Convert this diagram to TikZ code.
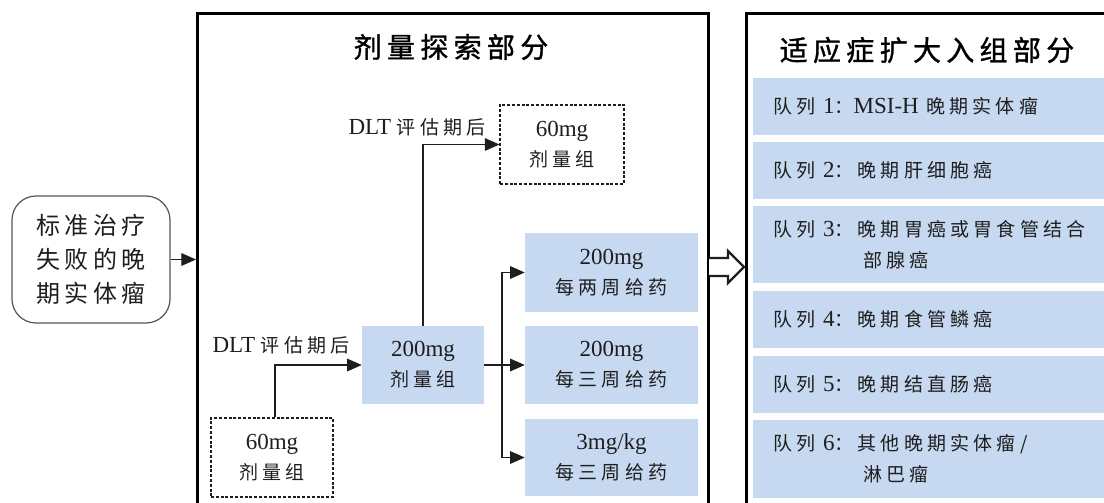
\documentclass[tikz,border=0pt]{standalone}
\usepackage{fontspec}
\setmainfont{Liberation Serif}
\newfontfamily\cjk[Scale=0.826,LetterSpace=22]{Noto Sans CJK SC}
\newfontfamily\cjkl[LetterSpace=18]{Noto Sans CJK SC}
\newfontfamily\cjkt[LetterSpace=19,FakeBold=1.2]{Noto Sans CJK SC}
\usetikzlibrary{arrows.meta}
\definecolor{boxblue}{RGB}{198,217,241}
\definecolor{ink}{RGB}{30,30,30}
\begin{document}
\begin{tikzpicture}[x=0.75pt,y=-0.75pt,
  base/.style={font=\fontsize{17.25}{22.5}\selectfont, text=ink, inner sep=0pt, align=center},
  bluebox/.style={base, fill=boxblue},
  dashbox/.style={base, draw=ink, line width=0.8pt, dash pattern=on 2.2pt off 1.4pt},
  link/.style={draw=ink, line width=0.9pt},
  arr/.style={link, -{Triangle[length=11pt,width=9.5pt]}},
  frame/.style={draw=black, line width=2pt, inner sep=0pt},
  cohort/.style={base, fill=boxblue, anchor=west, align=left, text width=255pt, inner xsep=15pt, inner ysep=0pt, font=\fontsize{17.25}{23}\selectfont},
  title/.style={font=\fontsize{21}{25}\selectfont\cjkt, text=black, inner sep=0pt},
  lbl/.style={base}
]
\useasboundingbox (0,0) rectangle (1104,503);
\clip (0,0) rectangle (1104,503);

% frames
\node[frame, anchor=north west, minimum width=383.25pt, minimum height=450pt] (doseframe) at (196,12) {};
\node[frame, anchor=north west, minimum width=300pt, minimum height=450pt] (expframe) at (745,12) {};

% titles
\node[title] (t1) at (451,47) {剂量探索部分};
\node[title] (t2) at (927,50) {适应症扩大入组部分};

% start box
\node[base, draw=ink!75, line width=0.9pt, rounded corners=18pt, minimum width=118.5pt, minimum height=95.25pt, font=\fontsize{18}{25.5}\selectfont\cjkl] (start) at (91,259.5) {标准治疗\\失败的晚\\期实体瘤};

% dose exploration boxes
\node[dashbox, fill=white, minimum width=93pt, minimum height=59.25pt] (d60a) at (562,144.5) {60mg\\{\cjk 剂量组}};
\node[bluebox, minimum width=91.5pt, minimum height=58.5pt] (d200) at (423,365) {200mg\\{\cjk 剂量组}};
\node[dashbox, minimum width=91.5pt, minimum height=59.25pt] (d60b) at (272,457.5) {60mg\\{\cjk 剂量组}};
\node[bluebox, minimum width=129.75pt, minimum height=59.25pt] (bA) at (611.5,272.5) {200mg\\{\cjk 每两周给药}};
\node[bluebox, minimum width=129.75pt, minimum height=58.5pt] (bB) at (611.5,365) {200mg\\{\cjk 每三周给药}};
\node[bluebox, minimum width=129.75pt, minimum height=57.75pt] (bC) at (611.5,457.5) {3mg/kg\\{\cjk 每三周给药}};

% labels
\node[lbl] (l1) at (417,127) {DLT {\cjk 评估期后}};
\node[lbl] (l2) at (281,345) {DLT {\cjk 评估期后}};

% connectors
\draw[arr] (start.east) -- (start.east -| doseframe.west);
\draw[arr] ([xshift=2.25pt]d60b.north) |- (d200.west);
\draw[arr] (d200.north) |- (d60a.west);
\coordinate (br) at (502,365);
\draw[arr] (d200.east) -- (bB.west);
\draw[arr] (br) |- (bA.west);
\draw[arr] (br) |- (bC.west);

% hollow arrow between frames
\draw[ink, line width=1.6pt, fill=white, line join=miter] (709,258) -- (728,258) -- (728,251) -- (744,267) -- (728,283) -- (728,276) -- (709,276);

% cohorts
\node[cohort, minimum height=42.75pt] (c1) at (753,106.5) {{\cjk 队列} 1{\cjk ：}MSI-H {\cjk 晚期实体瘤}};
\node[cohort, minimum height=42.75pt] (c2) at (753,170.5) {{\cjk 队列} 2{\cjk ：晚期肝细胞癌}};
\node[cohort, minimum height=57.75pt] (c3) at (753,244.5) {{\cjk 队列} 3{\cjk ：晚期胃癌或胃食管结合}\\\hspace*{67.5pt}{\cjk 部腺癌}};
\node[cohort, minimum height=42.75pt] (c4) at (753,319.5) {{\cjk 队列} 4{\cjk ：晚期食管鳞癌}};
\node[cohort, minimum height=42.75pt] (c5) at (753,384.5) {{\cjk 队列} 5{\cjk ：晚期结直肠癌}};
\node[cohort, minimum height=58.5pt] (c6) at (753,459) {{\cjk 队列} 6{\cjk ：其他晚期实体瘤/}\\\hspace*{67.5pt}{\cjk 淋巴瘤}};
\end{tikzpicture}
\end{document}
